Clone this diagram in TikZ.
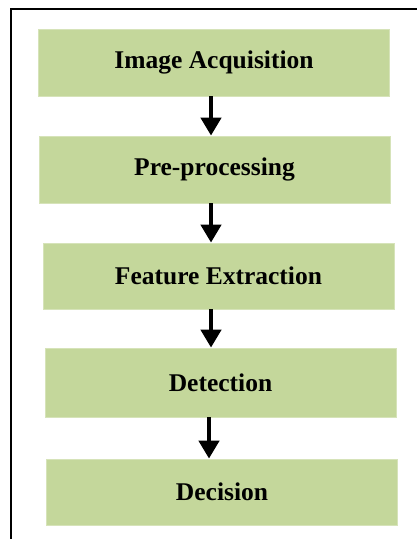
\documentclass[tikz,border=0pt]{standalone}
\usepackage{fontspec}
\setmainfont{Liberation Serif}
\usepackage{tikz}
\usetikzlibrary{arrows.meta,positioning}
\definecolor{boxgreen}{RGB}{196,215,155}
\tikzstyle{stage}=[rectangle, fill=boxgreen, draw=boxgreen!70!white, line width=0.8pt, minimum width=351pt, minimum height=67pt, inner sep=0pt, font=\fontsize{25.5}{30}\selectfont\bfseries]
\tikzstyle{flow}=[line width=4.5pt, -{Triangle[width=20pt, length=18pt]}, shorten >=0pt]

\begin{document}
\begin{tikzpicture}
[x=1pt, y=-1pt, flow]
 \useasboundingbox (0,0) rectangle (417,539);
 % outer frame, cut at right and bottom
 \begin{scope}
  \clip (0,0) rectangle (417,539);
  \draw[line width=2pt, -] (11,9) rectangle (430,560);
 \end{scope}
 \node[stage] (acq) at (214,62.5) {Image Acquisition};
 \node[stage] (pre) at (214.5,169.5) {Pre-processing};
 \node[stage, minimum height=66pt] (feat) at (218.5,276) {Feature Extraction};
 \node[stage, minimum height=69pt] (det) at (220.5,382.5) {Detection};
 \node[stage, minimum height=66pt] (dec) at (222,492) {Decision};
 \path[]
   ([xshift=-3pt]acq.south) edge node {} ([xshift=-3pt]acq.south |- pre.north)
   ([xshift=-3.5pt]pre.south) edge node {} ([xshift=-3.5pt]pre.south |- feat.north)
   ([xshift=-7.5pt]feat.south) edge node {} ([xshift=-7.5pt]feat.south |- det.north)
   ([xshift=-11.5pt]det.south) edge node {} ([xshift=-11.5pt]det.south |- dec.north);
\end{tikzpicture}
\end{document}
